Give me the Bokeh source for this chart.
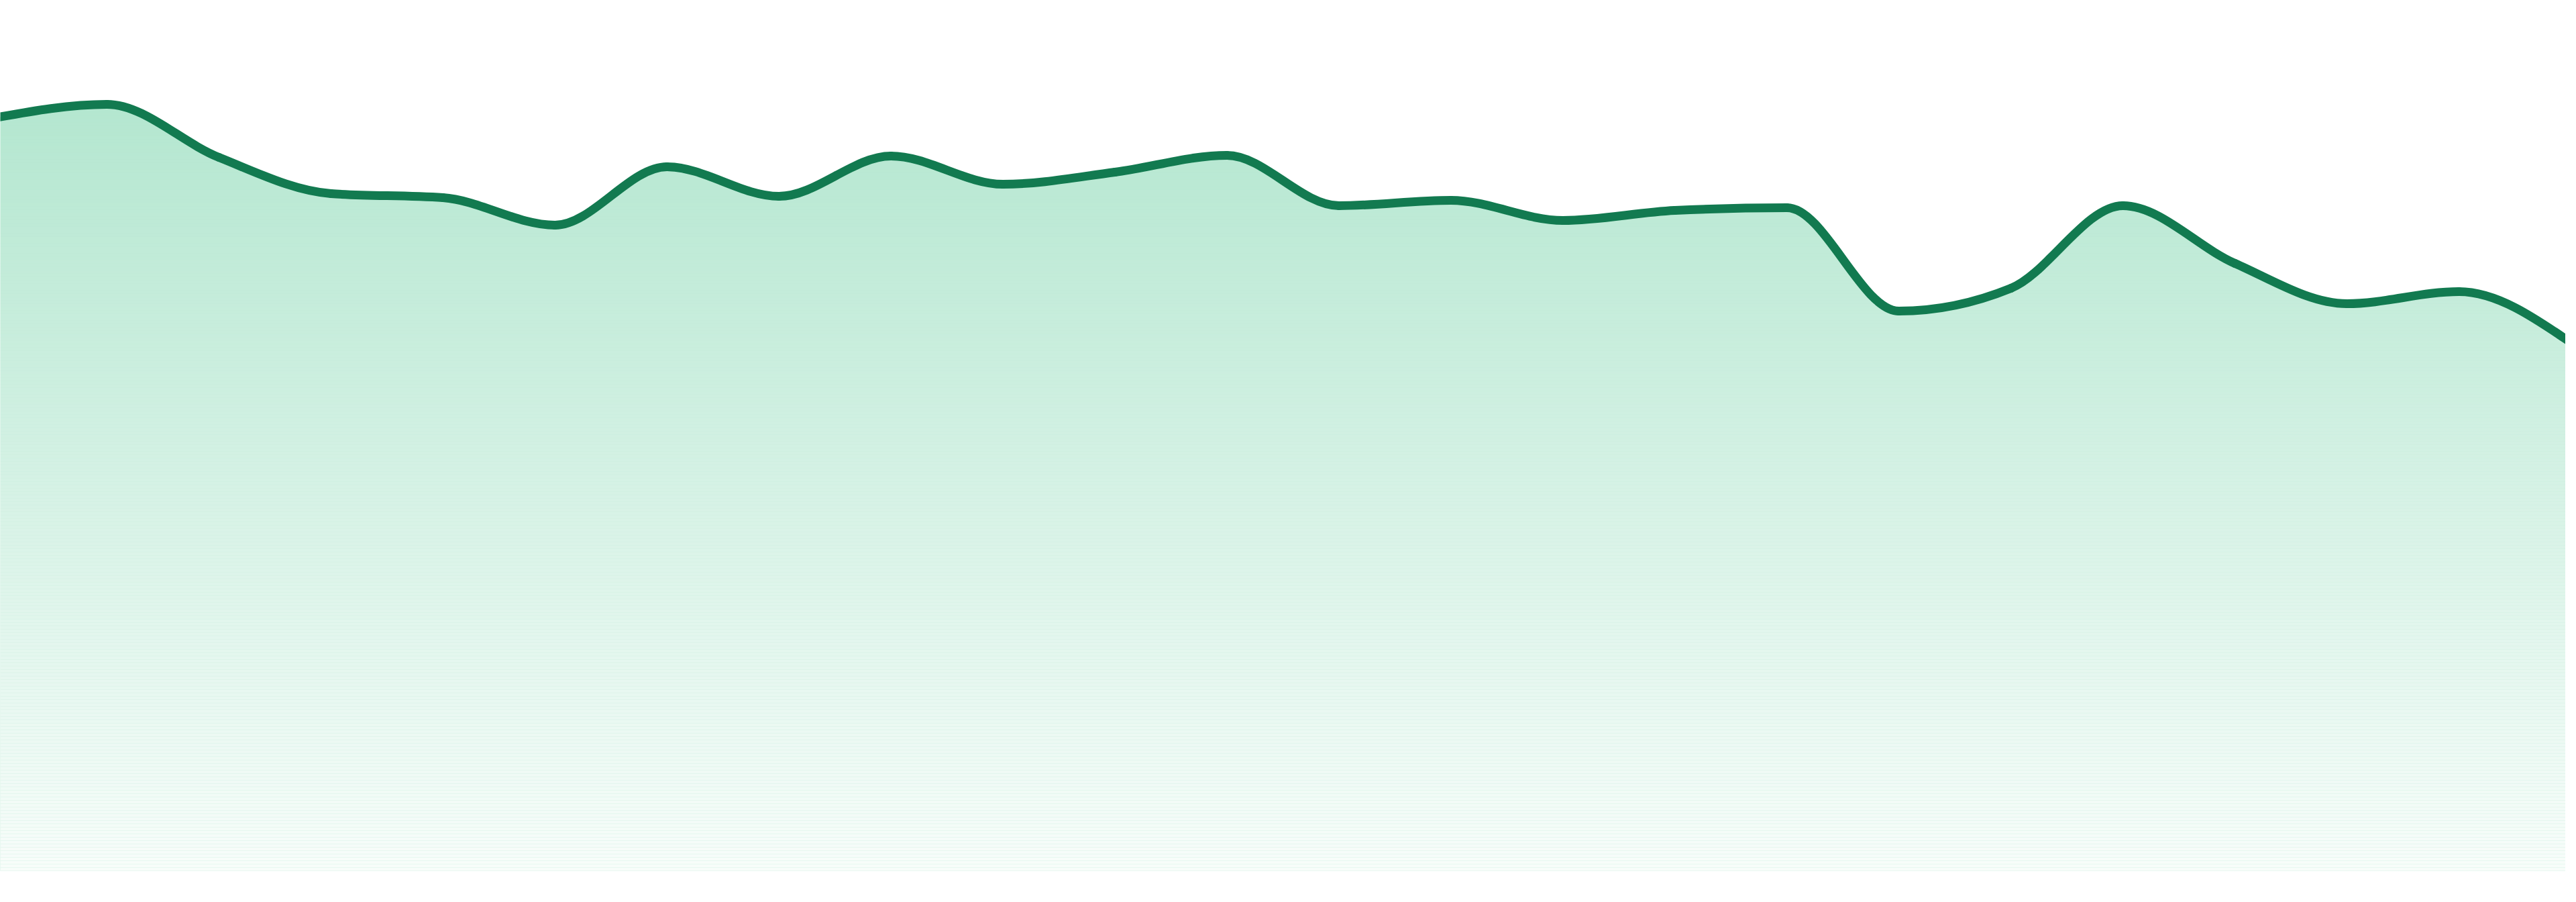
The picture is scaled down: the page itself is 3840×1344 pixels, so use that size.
import numpy as np
from bokeh.plotting import figure
from bokeh.models import Range1d, ColumnDataSource
from bokeh.embed import file_html
from bokeh.resources import INLINE

# ---- data ----
index = list(range(24))
values = [112.2, 114.2, 106.3, 100.9, 100.3, 96.2, 104.9, 100.5, 106.5, 102.3, 104.1, 106.6,
          99.1, 99.9, 96.9, 98.4, 98.8, 83.4, 86.8, 99.1, 90.5, 84.5, 86.3, 78.7]

LINE_COLOR = "#127a50"
FILL_TOP = (180, 231, 208)
FILL_BOTTOM_RATIO = 0.10   # tint left at the base, relative to the top tint

# ---- monotone-x cubic (same construction as d3.curveMonotoneX) ----
def monotone_tangents(x, y):
    x = np.asarray(x, float)
    y = np.asarray(y, float)
    n = len(x)
    h = np.diff(x)
    s = np.diff(y) / h
    sgn = lambda v: -1.0 if v < 0 else 1.0
    t = np.zeros(n)
    for i in range(1, n - 1):
        h0, h1 = h[i - 1], h[i]
        s0, s1 = s[i - 1], s[i]
        p = (s0 * h1 + s1 * h0) / (h0 + h1)
        t[i] = (sgn(s0) + sgn(s1)) * min(abs(s0), abs(s1), 0.5 * abs(p))
    t[0] = (3 * s[0] - t[1]) / 2
    t[-1] = (3 * s[-1] - t[-2]) / 2
    return t

xs = np.asarray(index, float)
ys = np.asarray(values, float)
tan = monotone_tangents(xs, ys)
dx = np.diff(xs)
seg = dict(
    x0=xs[:-1], y0=ys[:-1], x1=xs[1:], y1=ys[1:],
    cx0=xs[:-1] + dx / 3, cy0=ys[:-1] + dx * tan[:-1] / 3,
    cx1=xs[1:] - dx / 3, cy1=ys[1:] - dx * tan[1:] / 3,
)

# outline of the area, traced along the same bezier segments
tt = np.linspace(0, 1, 30)
fx, fy = [], []
for i in range(len(xs) - 1):
    P = np.array([[seg["x0"][i], seg["y0"][i]], [seg["cx0"][i], seg["cy0"][i]],
                  [seg["cx1"][i], seg["cy1"][i]], [seg["x1"][i], seg["y1"][i]]])
    b = ((1 - tt) ** 3)[:, None] * P[0] + (3 * (1 - tt) ** 2 * tt)[:, None] * P[1] \
        + (3 * (1 - tt) * tt ** 2)[:, None] * P[2] + (tt ** 3)[:, None] * P[3]
    if i > 0:
        b = b[1:]
    fx.extend(b[:, 0]); fy.extend(b[:, 1])

D = 3840 / 23.0
p = figure(width=3824, height=1328, output_backend="svg", toolbar_location=None,
           x_range=Range1d(8 / D, 3832 / D), y_range=Range1d(-3.1, 129.7),
           min_border=0, min_border_left=0, min_border_right=0,
           min_border_top=0, min_border_bottom=0)
p.axis.visible = False
p.grid.visible = False
p.outline_line_color = None
p.background_fill_color = "white"
p.border_fill_color = "white"

top_hex = "#%02x%02x%02x" % FILL_TOP
p.varea(x=fx, y1=0, y2=fy, fill_color=top_hex, fill_alpha=1.0)

# vertical gradient: white veil growing toward the base
g_top = 114.5
bands_b = np.arange(0, 117, 0.5)
centers = bands_b + 0.25
f = np.clip((g_top - centers) / g_top, 0, 1)
alpha = f * (1 - FILL_BOTTOM_RATIO)
p.quad(left=-1, right=24, bottom=bands_b, top=bands_b + 0.5,
       fill_color="white", fill_alpha=alpha, line_color=None)

p.bezier(source=ColumnDataSource(seg), x0="x0", y0="y0", x1="x1", y1="y1",
         cx0="cx0", cy0="cy0", cx1="cx1", cy1="cy1",
         line_color=LINE_COLOR, line_width=13, line_cap="round")

open("out.html", "w").write(file_html(p, INLINE))
